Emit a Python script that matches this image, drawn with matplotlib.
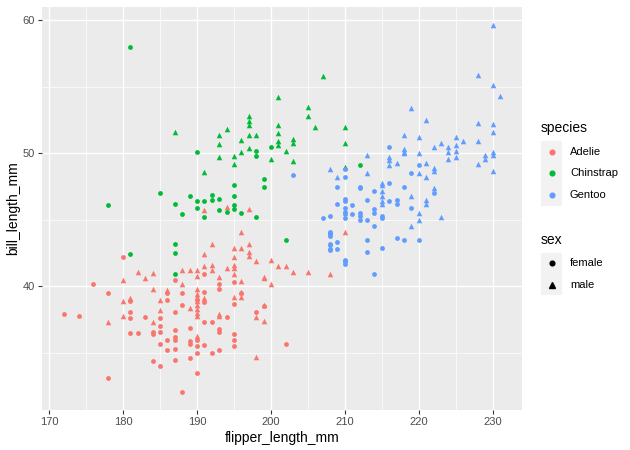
import matplotlib
matplotlib.use("Agg")
import matplotlib.pyplot as plt
from matplotlib.patches import Rectangle
from matplotlib.lines import Line2D
from matplotlib.ticker import MultipleLocator

plt.rcParams['font.family'] = ['Liberation Sans', 'DejaVu Sans']

species_names = ["Adelie", "Chinstrap", "Gentoo"]
sex_names = ["female", "male"]
species_colors = ["#F8766D", "#00BA38", "#619CFF"]

x_ticks = [170, 180, 190, 200, 210, 220, 230]
y_ticks = [40, 50, 60]

# ---- Adelie ----
adelie_flipper = [180, 182, 184, 183, 180, 188, 189, 190, 190, 176, 178, 187, 188, 188, 184, 186, 186, 185, 186, 180,
                  181, 181, 188, 189, 172, 174, 178, 180, 181, 181, 185, 187, 183, 185, 184, 185, 181, 182, 184, 184,
                  185, 187, 189, 187, 187, 186, 190, 190, 189, 189, 185, 186, 187, 190, 190, 187, 189, 184, 185, 190,
                  178, 188, 192, 191, 191, 192, 192, 191, 193, 193, 193, 194, 195, 195, 195, 195, 195, 195, 196, 196,
                  197, 197, 197, 198, 199, 190, 190, 190, 190, 190, 190, 190, 190, 190, 191, 191, 191, 193, 194, 191,
                  192, 195, 195, 196, 196, 198, 198, 199, 199, 196, 200, 201, 202, 203, 205, 208, 200, 199, 196, 199,
                  195, 195, 195, 193, 193, 202, 191, 192, 193, 198, 193, 194, 191, 197, 210]
adelie_bill = [42.2, 41.1, 41.0, 40.6, 40.5, 41.2, 41.2, 41.2, 40.8, 40.2, 39.5, 40.5, 40.2, 39.5, 39.8, 39.5, 39.7, 39.0, 39.0, 38.9,
               39.1, 38.9, 38.6, 38.4, 37.9, 37.8, 37.3, 37.8, 38.1, 37.6, 38.2, 38.1, 37.7, 37.6, 37.3, 37.0, 36.5, 36.5, 36.6, 36.4,
               36.6, 36.7, 36.9, 36.2, 36.0, 36.0, 36.3, 36.0, 35.9, 35.7, 35.7, 35.2, 35.3, 35.5, 35.0, 34.5, 34.6, 34.4, 34.0, 33.5,
               33.1, 32.1, 43.2, 42.4, 41.5, 41.6, 41.2, 40.9, 40.7, 40.2, 39.8, 41.4, 41.6, 41.4, 40.9, 40.3, 42.9, 42.2, 42.9, 40.4,
               43.2, 42.6, 42.3, 41.9, 40.7, 39.8, 39.4, 39.2, 38.9, 38.6, 38.3, 38.0, 37.8, 39.0, 39.6, 39.1, 38.8, 37.9, 37.7, 37.3,
               37.3, 39.2, 38.7, 39.6, 39.2, 37.7, 38.1, 38.6, 37.4, 44.1, 42.0, 41.5, 41.5, 41.1, 41.1, 40.9, 40.2, 40.6, 39.5, 38.5,
               36.4, 36.0, 35.5, 36.8, 36.6, 35.7, 35.6, 35.0, 35.2, 34.7, 37.8, 46.0, 45.7, 45.8, 44.1]
adelie_sex = list("fmmmmmmmmfffmfmfmmfm"
                  "mffmffmmffmfffmfffff"
                  "ffffffmfffffffffffff"
                  "ffmmmmmfmffmmmmfmmmm"
                  "mmmmmmmmmmmmmffmfmff"
                  "fmfmmmfmmmmmmmmmmmff"
                  "fffffffffmmmmmm")

# ---- Chinstrap ----
chinstrap_flipper = [181, 187, 193, 193, 193, 194, 190, 191, 178, 185, 187, 188, 189, 190, 190, 191, 191, 192, 192, 193,
                     193, 194, 181, 187, 187, 187, 202, 207, 201, 205, 205, 206, 197, 197, 197, 196, 197, 198, 201, 201,
                     201, 201, 200, 203, 203, 202, 197, 196, 198, 198, 195, 195, 200, 203, 199, 199, 195, 195, 195, 195,
                     196, 198, 210, 212, 210, 210]
chinstrap_bill = [58.0, 51.6, 51.4, 50.7, 49.7, 51.8, 50.1, 48.6, 46.1, 47.0, 46.2, 45.4, 46.8, 46.4, 45.9, 46.4, 45.2, 46.9, 46.5, 46.6,
                  45.7, 45.6, 42.4, 43.2, 42.5, 40.9, 43.5, 55.8, 54.2, 53.5, 52.8, 52.0, 52.8, 52.4, 52.1, 51.0, 51.4, 51.4, 52.1, 51.5,
                  50.9, 50.6, 50.5, 51.1, 50.8, 50.2, 50.4, 50.1, 50.2, 49.8, 49.8, 49.2, 49.6, 49.4, 48.1, 47.5, 47.6, 46.8, 46.1, 45.8,
                  45.5, 45.2, 49.0, 49.1, 52.0, 50.8]
chinstrap_sex = list("fmmmmmfmffffffffffff"
                     "fffffffmmmmmmmmmmmmm"
                     "mmfmmmmmffmmmmffffff"
                     "ffmfmm")

# ---- Gentoo ----
gentoo_flipper = [208, 208, 208, 209, 208, 209, 210, 203, 208, 209, 209, 209, 208, 207, 213, 216, 216, 216, 217, 218,
                  219, 210, 210, 213, 212, 212, 214, 215, 215, 215, 215, 216, 218, 219, 210, 210, 211, 213, 215, 215,
                  216, 217, 217, 210, 210, 210, 210, 211, 212, 212, 212, 214, 214, 213, 215, 215, 214, 219, 219, 208,
                  208, 213, 213, 215, 217, 218, 210, 210, 210, 214, 219, 221, 218, 220, 216, 218, 218, 220, 222, 223,
                  230, 228, 230, 231, 228, 230, 230, 225, 226, 228, 224, 225, 224, 225, 229, 229, 230, 230, 224, 225,
                  228, 230, 220, 221, 222, 222, 220, 221, 222, 222, 221, 221, 220, 220, 223, 220, 208, 208]
gentoo_bill = [44.0, 43.8, 43.2, 43.3, 42.8, 42.8, 41.9, 48.4, 48.8, 48.2, 47.5, 46.2, 45.3, 45.1, 49.9, 49.7, 49.5, 49.1, 49.3, 50.1,
               48.5, 48.8, 48.2, 48.5, 47.5, 47.4, 47.2, 47.8, 47.6, 47.2, 46.8, 47.8, 47.5, 46.8, 46.6, 46.4, 46.1, 46.5, 46.4, 46.2,
               46.4, 46.5, 46.2, 45.9, 45.6, 45.4, 45.1, 45.4, 45.5, 45.3, 45.0, 45.8, 45.5, 45.0, 45.3, 45.1, 44.5, 45.9, 44.5, 43.1,
               42.7, 43.5, 42.6, 42.9, 43.6, 43.5, 42.0, 41.9, 41.7, 40.9, 53.4, 52.5, 51.4, 51.2, 50.5, 50.3, 50.0, 50.0, 50.5, 50.8,
               59.6, 55.9, 55.1, 54.3, 52.3, 52.2, 51.6, 51.2, 50.9, 50.9, 50.5, 50.6, 50.1, 50.2, 49.9, 49.6, 50.1, 49.9, 49.6, 49.7,
               49.2, 48.7, 49.1, 49.3, 48.9, 48.7, 48.5, 48.2, 47.4, 47.0, 46.5, 46.2, 45.5, 45.0, 45.2, 43.5, 44.1, 43.9]
gentoo_sex = list("ffffffffmmffffmmmmmm"
                  "fffmfffmmmmffmffffmm"
                  "ffffffffffffffffffmf"
                  "ffffffffffmmmmfmmmmm"
                  "mmmmmmmmmmmmmmmmmmmm"
                  "mmfmmmmmmfmmmmmfff")

data = {
    "Adelie": (adelie_flipper, adelie_bill, adelie_sex),
    "Chinstrap": (chinstrap_flipper, chinstrap_bill, chinstrap_sex),
    "Gentoo": (gentoo_flipper, gentoo_bill, gentoo_sex),
}

W, H = 630, 450
fig = plt.figure(figsize=(W / 100, H / 100), dpi=100)
fig.patch.set_facecolor("white")

# panel in pixel coordinates
pl, pr, pt, pb = 42, 522, 7, 410
ax = fig.add_axes([pl / W, 1 - pb / H, (pr - pl) / W, (pb - pt) / H])
ax.set_facecolor("#EBEBEB")
for s in ax.spines.values():
    s.set_visible(False)

ax.set_xlim(169.05, 233.95)
ax.set_ylim(30.725, 60.975)
ax.set_xticks(x_ticks)
ax.set_yticks(y_ticks)
ax.xaxis.set_minor_locator(MultipleLocator(5))
ax.yaxis.set_minor_locator(MultipleLocator(5))
ax.grid(which="major", color="white", linewidth=1.0)
ax.grid(which="minor", color="white", linewidth=0.5)
ax.set_axisbelow(True)
ax.tick_params(which="major", length=3, width=0.8, color="#333333", labelsize=8, labelcolor="#4D4D4D", pad=2)
ax.tick_params(which="minor", length=0)

markers = {"f": "o", "m": "^"}
sizes = {"f": 12, "m": 16}
for name, color in zip(species_names, species_colors):
    fl, bl, sx = data[name]
    n = min(len(fl), len(bl), len(sx))
    for key in ["f", "m"]:
        xs = [fl[i] for i in range(n) if sx[i] == key]
        ys = [bl[i] for i in range(n) if sx[i] == key]
        ax.scatter(xs, ys, s=sizes[key], marker=markers[key], color=color, linewidths=0, zorder=3)

ax.set_xlabel("flipper_length_mm", fontsize=10, color="black", labelpad=3)
ax.set_ylabel("bill_length_mm", fontsize=10, color="black", labelpad=1.5)

# ---- legends (drawn in pixel coordinates) ----
def fx(x):
    return x / W

def fy(y):
    return 1 - y / H

def key_box(y0, n, step):
    fig.add_artist(Rectangle((fx(541), fy(y0 + step * n)), 21 / W, step * n / H,
                             transform=fig.transFigure, facecolor="#F2F2F2", edgecolor="none"))

fig.text(fx(541), fy(128), "species", fontsize=10, va="center", ha="left")
key_box(140.7, 3, 21.8)
for i, (name, color) in enumerate(zip(species_names, species_colors)):
    yc = 151.6 + 21.8 * i
    fig.add_artist(Line2D([fx(551.5)], [fy(yc)], marker="o", markersize=3.4, color=color,
                          linestyle="none", transform=fig.transFigure))
    fig.text(fx(570), fy(yc), name, fontsize=8, va="center", ha="left")

fig.text(fx(541), fy(240), "sex", fontsize=10, va="center", ha="left")
key_box(252.7, 2, 21.2)
for i, (name, key) in enumerate(zip(sex_names, ["f", "m"])):
    yc = 263.4 + 21.2 * i
    fig.add_artist(Line2D([fx(551.5)], [fy(yc)], marker=markers[key], markersize=3.4 if key == "f" else 4.0,
                          color="black", linestyle="none", transform=fig.transFigure))
    fig.text(fx(570), fy(yc), name, fontsize=8, va="center", ha="left")

fig.savefig("out.png", dpi=100)
